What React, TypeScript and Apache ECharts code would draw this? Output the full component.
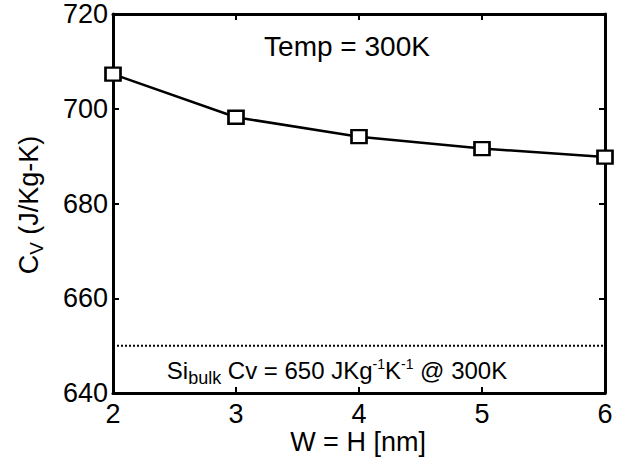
import React, { useEffect, useRef } from "react";
import * as echarts from "echarts";

const widths = [2, 3, 4, 5, 6];
const cv = [707.3, 698.2, 694.1, 691.6, 689.8];
const bulkX = [2, 6];
const bulkY = [650, 650];
const xTicks = [2, 3, 4, 5, 6];
const yTicks = [640, 660, 680, 700, 720];

const FONT = "'Liberation Sans', Arial, Helvetica, sans-serif";

export default function App() {
  const ref = useRef<HTMLDivElement>(null);
  useEffect(() => {
    if (!ref.current) return;
    const chart = echarts.init(ref.current, null, { renderer: "svg" });
    const axisCommon = {
      type: "value" as const,
      axisLine: { show: true, lineStyle: { color: "#000", width: 3 } },
      axisTick: { show: true, inside: true, length: 6, lineStyle: { color: "#000", width: 2 } },
      splitLine: { show: false },
    };
    chart.setOption({
      animation: false,
      backgroundColor: "#fff",
      grid: { left: 113, right: 25, top: 14, bottom: 64, containLabel: false, outerBoundsMode: "none" },
      xAxis: [
        {
          ...axisCommon,
          position: "bottom",
          min: xTicks[0],
          max: xTicks[xTicks.length - 1],
          interval: 1,
          axisLabel: { color: "#000", fontSize: 27, fontFamily: FONT, margin: 11, lineHeight: 20 },
        },
        {
          ...axisCommon,
          position: "top",
          min: xTicks[0],
          max: xTicks[xTicks.length - 1],
          interval: 1,
          axisLabel: { show: false },
        },
      ],
      yAxis: [
        {
          ...axisCommon,
          position: "left",
          min: yTicks[0],
          max: yTicks[yTicks.length - 1],
          interval: 20,
          axisLabel: { color: "#000", fontSize: 27, fontFamily: FONT, margin: 5 },
        },
        {
          ...axisCommon,
          position: "right",
          min: yTicks[0],
          max: yTicks[yTicks.length - 1],
          interval: 20,
          axisLabel: { show: false },
        },
      ],
      graphic: [
        {
          type: "text",
          x: 358,
          y: 442,
          style: {
            text: "W = H [nm]",
            fontSize: 27,
            fontFamily: FONT,
            lineHeight: 20,
            fill: "#000",
            align: "center",
            verticalAlign: "middle",
          },
        },
        {
          type: "text",
          x: 347,
          y: 46,
          style: {
            text: "Temp = 300K",
            font: `28px ${FONT}`,
            fill: "#000",
            align: "center",
            verticalAlign: "middle",
          },
        },
        {
          type: "text",
          x: 337,
          y: 370,
          style: {
            text: "{a|Si}{sub|bulk}{a| Cv = 650 JKg}{sup|-1}{a|K}{sup|-1}{a| @ 300K}",
            align: "center",
            verticalAlign: "middle",
            rich: {
              a: { fontSize: 24, fontFamily: FONT, color: "#000", lineHeight: 32 },
              sub: { fontSize: 18, fontFamily: FONT, color: "#000", lineHeight: 32, padding: [16, 0, 0, 0] },
              sup: { fontSize: 14, fontFamily: FONT, color: "#000", lineHeight: 32, padding: [0, 0, 13, 0] },
            },
          },
        },
        {
          type: "text",
          x: 29,
          y: 205,
          rotation: Math.PI / 2,
          style: {
            text: "{a|C}{sub|V}{a| (J/Kg-K)}",
            align: "center",
            verticalAlign: "middle",
            rich: {
              a: { fontSize: 27, fontFamily: FONT, color: "#000", lineHeight: 36 },
              sub: { fontSize: 19, fontFamily: FONT, color: "#000", lineHeight: 36, padding: [15, 0, 0, 0] },
            },
          },
        },
      ],
      series: [
        {
          type: "line",
          data: bulkX.map((x, i) => [x, bulkY[i]]),
          symbol: "none",
          lineStyle: { color: "#000", width: 2, type: [2, 2] },
          z: 1,
        },
        {
          type: "line",
          data: widths.map((x, i) => [x, cv[i]]),
          symbol: "rect",
          symbolSize: [15, 13],
          lineStyle: { color: "#000", width: 2.5 },
          itemStyle: { color: "#fff", borderColor: "#000", borderWidth: 2.5 },
          z: 3,
        },
      ],
    });
    return () => chart.dispose();
  }, []);
  return (
    <div
      ref={ref}
      style={{ position: "fixed", left: 0, top: 0, width: 630, height: 457, background: "#fff" }}
    />
  );
}
